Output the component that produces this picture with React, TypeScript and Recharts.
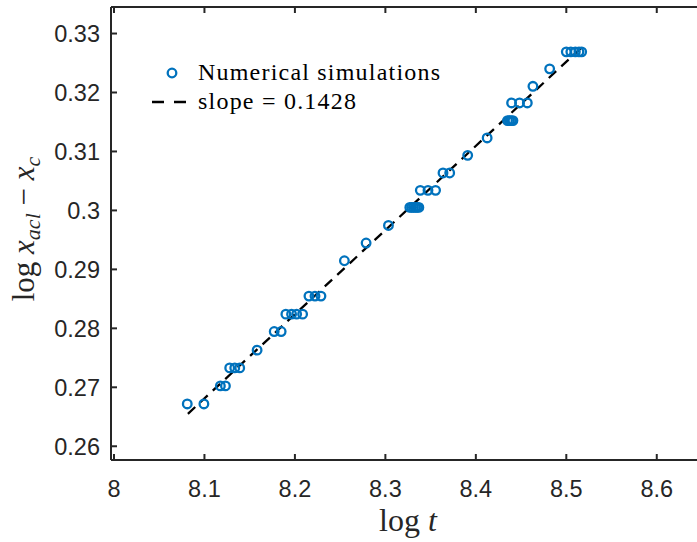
import { ScatterChart, Scatter, XAxis, YAxis, Legend } from 'recharts';

// log t of each simulation run
const simLogT = [
  8.081, 8.0994,
  8.1176, 8.1232,
  8.1279, 8.1335, 8.139,
  8.1582,
  8.1771, 8.1848,
  8.19, 8.1963, 8.2019, 8.2085,
  8.2155, 8.2222, 8.2288,
  8.2547,
  8.2787,
  8.3034,
  8.327, 8.329, 8.331, 8.333, 8.335, 8.337,
  8.3386, 8.3471, 8.3555,
  8.3637, 8.3711,
  8.391,
  8.4125,
  8.435, 8.437, 8.439, 8.441,
  8.4395, 8.4483, 8.4569,
  8.4631,
  8.4816,
  8.5, 8.505, 8.51, 8.514, 8.517,
];

// log x_acl - x_c of each run
const simLogX = [
  0.26718, 0.26718,
  0.27024, 0.27024,
  0.27329, 0.27329, 0.27329,
  0.2763,
  0.27946, 0.27946,
  0.28241, 0.28241, 0.28241, 0.28241,
  0.28547, 0.28547, 0.28547,
  0.29146,
  0.29447,
  0.29745,
  0.30051, 0.30051, 0.30051, 0.30051, 0.30051, 0.30051,
  0.3034, 0.3034, 0.3034,
  0.30635, 0.30635,
  0.30934,
  0.31229,
  0.31523, 0.31523, 0.31523, 0.31523,
  0.31823, 0.31823, 0.31823,
  0.32105,
  0.32401,
  0.32689, 0.32689, 0.32689, 0.32689, 0.32689,
];

// fitted line end points (slope = 0.1428)
const fitLogT = [8.0817, 8.516];
const fitLogX = [0.2655, 0.3275];

const xTicks = [8, 8.1, 8.2, 8.3, 8.4, 8.5, 8.6];
const yTicks = [0.26, 0.27, 0.28, 0.29, 0.3, 0.31, 0.32, 0.33];

const BLUE = '#0072BD';
const AXIS = '#262626';
const TICK_FONT = '"Liberation Sans", Arial, sans-serif';
const MATH_FONT = '"Liberation Serif", "Times New Roman", serif';

const simData = simLogT.map((t, i) => ({ t, x: simLogX[i] }));
const fitData = fitLogT.map((t, i) => ({ t, x: fitLogX[i] }));

const fmtX = (v: number) => (Math.abs(v - Math.round(v)) < 1e-9 ? String(Math.round(v)) : v.toFixed(1));
const fmtY = (v: number) => (Math.abs(v - 0.3) < 1e-9 ? '0.3' : v.toFixed(2));

const BottomTick = (props: any) => {
  const { x, y, payload } = props;
  return (
    <g>
      <line x1={x} y1={y} x2={x} y2={y - 6} stroke={AXIS} strokeWidth={2} />
      <text x={x} y={y + 37} textAnchor="middle" fill={AXIS} fontSize={23.5} fontFamily={TICK_FONT}>
        {fmtX(payload.value)}
      </text>
    </g>
  );
};

const TopTick = (props: any) => {
  const { x, y } = props;
  return <line x1={x} y1={y} x2={x} y2={y + 6} stroke={AXIS} strokeWidth={2} />;
};

const LeftTick = (props: any) => {
  const { x, y, payload } = props;
  return (
    <g>
      <line x1={x} y1={y} x2={x + 6} y2={y} stroke={AXIS} strokeWidth={2} />
      <text x={x - 11} y={y + 8.5} textAnchor="end" fill={AXIS} fontSize={23.5} fontFamily={TICK_FONT}>
        {fmtY(payload.value)}
      </text>
    </g>
  );
};

const Ring = (props: any) => (
  <circle cx={props.cx} cy={props.cy} r={4.3} fill="none" stroke={BLUE} strokeWidth={2.3} />
);

const NoDot = () => <g />;

const YLabel = () => (
  <text
    transform="translate(34, 229) rotate(-90)"
    textAnchor="middle"
    fill={AXIS}
    fontSize={31}
    fontFamily={MATH_FONT}
  >
    <tspan>log </tspan>
    <tspan fontStyle="italic">x</tspan>
    <tspan fontStyle="italic" fontSize={22} dy={6}>acl</tspan>
    <tspan dy={-6}> − </tspan>
    <tspan fontStyle="italic">x</tspan>
    <tspan fontStyle="italic" fontSize={22} dy={6}>c</tspan>
  </text>
);

const XLabel = () => (
  <text x={408} y={531} textAnchor="middle" fill={AXIS} fontSize={32} fontFamily={MATH_FONT}>
    <tspan>log </tspan>
    <tspan fontStyle="italic">t</tspan>
  </text>
);

const renderLegend = () => (
  <svg width={320} height={64}>
    <circle cx={24} cy={17} r={4.3} fill="none" stroke={BLUE} strokeWidth={2.3} />
    <text x={50} y={24} fontSize={24} fontFamily={MATH_FONT} fill="#000" textLength={242}>
      Numerical simulations
    </text>
    <line x1={4} y1={46} x2={38} y2={46} stroke="#000" strokeWidth={2.3} strokeDasharray="12 10" />
    <text x={50} y={53} fontSize={24} fontFamily={MATH_FONT} fill="#000" textLength={158}>
      slope = 0.1428
    </text>
  </svg>
);

export default function App() {
  return (
    <div style={{ position: 'absolute', left: 0, top: 0, width: 697, height: 542, overflow: 'hidden', background: '#fff' }}>
      <ScatterChart width={702} height={542} margin={{ top: 6, right: 0, bottom: 0, left: 0 }}>
        <XAxis
          xAxisId="bottom"
          type="number"
          dataKey="t"
          domain={[7.9967, 8.65]}
          ticks={xTicks}
          allowDataOverflow
          height={82}
          tickSize={0}
          tickMargin={0}
          tick={<BottomTick />}
          axisLine={{ stroke: AXIS, strokeWidth: 2 }}
          label={<XLabel />}
        />
        <XAxis
          xAxisId="top"
          orientation="top"
          type="number"
          dataKey="t"
          domain={[7.9967, 8.65]}
          ticks={xTicks}
          allowDataOverflow
          height={1}
          tickSize={0}
          tickMargin={0}
          tick={<TopTick />}
          axisLine={{ stroke: AXIS, strokeWidth: 2 }}
        />
        <YAxis
          yAxisId="left"
          type="number"
          dataKey="x"
          domain={[0.25767, 0.3345]}
          ticks={yTicks}
          allowDataOverflow
          width={111}
          tickSize={0}
          tickMargin={0}
          tick={<LeftTick />}
          axisLine={{ stroke: AXIS, strokeWidth: 2 }}
          label={<YLabel />}
        />
        <Legend
          content={renderLegend}
          layout="horizontal"
          verticalAlign="middle"
          align="center"
          wrapperStyle={{ left: 148, top: 56, width: 320 }}
        />
        <Scatter
          name="slope = 0.1428"
          data={fitData}
          xAxisId="bottom"
          yAxisId="left"
          line={{ stroke: '#000', strokeWidth: 2.3, strokeDasharray: '10 7' }}
          shape={<NoDot />}
          isAnimationActive={false}
        />
        <Scatter
          name="Numerical simulations"
          data={simData}
          xAxisId="bottom"
          yAxisId="left"
          shape={<Ring />}
          isAnimationActive={false}
        />
      </ScatterChart>
    </div>
  );
}
